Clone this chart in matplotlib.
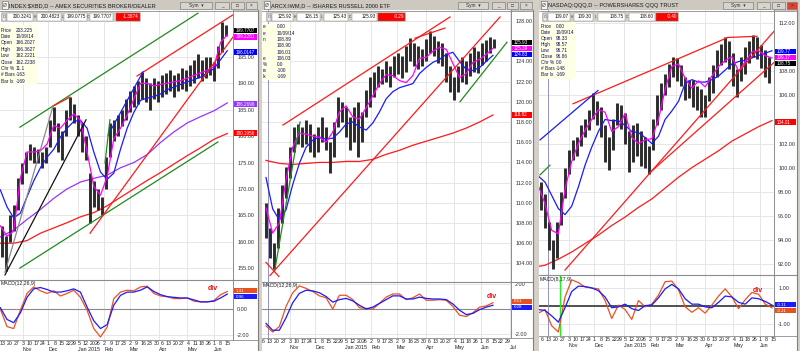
import numpy as np
import pandas as pd
import matplotlib
matplotlib.use("Agg")
import matplotlib.pyplot as plt
from matplotlib.patches import Rectangle
from matplotlib.lines import Line2D
from matplotlib.ticker import FormatStrFormatter

# ===================== DATA =====================
# session index 0 = 2014-10-13 (trading days). Bars sampled every 3 sessions,
# fast MAs and MACD weekly (every 5 sessions), slow MAs every 10 sessions.

# ---- INDEX:$XBD (AMEX Securities Broker/Dealer) ----
xbd_bar_start, xbd_week_start, xbd_slow_start = -1, -2, -2
xbd_hi = [163, 161, 165, 167, 172, 175, 177, 178.5, 178, 177.5, 177, 178, 183, 185.5, 182.5, 181, 185, 187.4, 186,
          184, 182.5, 180, 173, 171.5, 170, 168.5, 176, 182.5, 183, 184, 185, 187, 188.5, 189.5, 190.5, 192.2, 191,
          190, 191, 190.5, 191.5, 192, 192.5, 191.5, 192, 193, 192.5, 193.5, 194.5, 195.5, 194.5, 195, 195, 194, 197,
          201.6, 201]
xbd_lo = [157, 154.5, 160, 162, 166, 171, 173, 175.5, 175, 175, 174, 175, 178, 181, 177, 175.5, 180, 183, 182.5,
          180, 177, 175.5, 163.5, 166.5, 166, 165, 170, 176, 179, 180, 182, 183, 184.5, 185.5, 186, 187, 186.5, 185,
          187, 186.5, 187.5, 188, 188.5, 187.5, 188.5, 189, 188.5, 189.5, 190, 191, 190.5, 191, 191.5, 190.5, 193,
          196, 199]
xbd_fast_ma = [163, 161, 162, 172, 177, 177, 177.2, 178.5, 182, 181.5, 183, 184.2, 183, 177, 170.5, 168.8, 172.3,
               179.5, 181.5, 184, 187, 190, 190, 189.5, 189.8, 190, 190.3, 190.5, 191, 191.5, 192, 192.5, 193.2,
               197.8, 199.2]
xbd_mid_ma = [169.8, 166.6, 164.5, 165.4, 168.5, 171.5, 174, 176, 177.5, 179.8, 181.5, 182.8, 183, 181.5, 177,
              173.2, 171.8, 173, 177.5, 181.5, 184.5, 186.8, 187.2, 187.5, 188, 188.8, 189.3, 189.8, 190.3, 190.7,
              191.2, 192, 192.8, 194.5, 196.2]
xbd_ma50 = [160.9, 162.2, 164.2, 166.1, 168.2, 170, 171.3, 172, 172.6, 174, 175, 176.5, 178.8, 180.8, 182.5, 183.7,
            184.8, 186.3]
xbd_ma200 = [159.7, 159.7, 160.2, 161.6, 162.6, 163.6, 164.7, 165.5, 166.8, 168.4, 170, 171.6, 173.1, 174.7, 176.3,
             177.8, 179.4, 180.5]
xbd_macd = [0.0, -1.35, -1.5, -0.1, 1.2, 1.7, 1.4, 1.2, 1.4, 1.0, 1.2, 1.45, 0.9, -0.1, -1.5, -2.15, -1.4, 0.8, 1.3,
            1.45, 1.4, 1.7, 1.75, 1.2, 1.0, 0.95, 0.8, 0.8, 0.85, 0.6, 0.55, 0.55, 0.65, 1.1, 1.35]
xbd_signal = [0.1, -0.8, -1.05, -0.3, 0.9, 1.55, 1.65, 1.5, 1.3, 1.3, 1.4, 1.55, 1.3, 0.15, -0.9, -1.5, -1.2, 0.3,
              1.05, 1.3, 1.3, 1.45, 1.7, 1.35, 1.1, 0.95, 0.9, 0.85, 0.85, 0.7, 0.55, 0.55, 0.6, 0.85, 1.15]
# trendlines: (session, price) start -> end
xbd_trend_from = [(12.7, 181.7), (12.7, 155.0), (65.2, 161.6), (100.4, 191.4), (37.5, 185.7), (1.5, 153.7),
                  (1.5, 154.2), (78.7, 180.2), (76.4, 174.9)]
xbd_trend_to = [(146, 203.3), (161, 178.9), (172.3, 198.8), (172.3, 203.0), (50.2, 187.4), (62.2, 183.1),
                (37.5, 185.7), (104.9, 192.2), (80.1, 183.1)]
xbd_trend_colors = ['#1f8a1f', '#1f8a1f', '#ff1a1a', '#ff1a1a', '#ff1a1a', '#111111', '#8a8a8a', '#1a1aff',
                    '#1f8a1f']
xbd_title = "INDEX:$XBD,D -- AMEX SECURITIES BROKER/DEALER"
xbd_header = ["200.3241", "200.4823", "199.0775", "199.7707", "-1.3874"]
xbd_info = ["203.225", "10/09/14", "166.2027", "166.3627", "162.2221", "162.2238", "11.1", "-163", "-169"]
xbd_value_tags = [("199.7707", '#000000'), ("199.2261", '#ff00ff'), ("196.0147", '#0000ff'),
                  ("186.2696", '#9933ff'), ("180.1956", '#ff0000')]
xbd_macd_tags = [("1.31", '#e8501e'), ("0.96", '#1a1aff')]

# ---- ARCX:IWM (iShares Russell 2000 ETF) ----
iwm_bar_start, iwm_week_start, iwm_slow_start = -3, -3, -3
iwm_hi = [110, 107.5, 106, 109.5, 111.8, 113.5, 115.5, 117.5, 117.8, 117.5, 118.2, 117.8, 116.8, 117.5, 118.5,
          117.5, 116, 118, 120.5, 120, 119.5, 118.5, 119.5, 120, 119, 121.2, 122.5, 123, 123.5, 123.2, 124, 123.5,
          124.5, 124.8, 124.5, 125.5, 126.3, 125.8, 125.5, 125.2, 126.2, 127, 126.5, 126, 125.8, 124.8, 123.5,
          122.5, 123.5, 124.4, 124, 124.8, 125.4, 125, 125.8, 126.1, 126.4, 126.2]
iwm_lo = [106.5, 104.5, 103.4, 105.5, 108, 110.5, 112.5, 115, 115.8, 115.5, 115.8, 115, 114.5, 115, 116, 115.2, 113,
          114.5, 117.5, 118, 116.5, 115.2, 116, 114.5, 116, 118.5, 119.5, 120.5, 121.5, 121.8, 122, 121.5, 122.5,
          122.8, 122.4, 123, 124, 123.5, 123.2, 123.5, 124, 124.8, 124.5, 123.8, 123.5, 122, 121, 120.2, 121, 122,
          121.8, 122.6, 123, 122.9, 123.6, 124, 124.8, 125.3]
iwm_fast_ma = [109.5, 107, 108, 112.3, 115.5, 116.9, 116.8, 116.6, 116.5, 116, 117, 119, 119.6, 118.5, 118.3, 119.4,
               120.6, 121.8, 122.7, 122.6, 122.1, 121.9, 122.6, 124.3, 124.4, 125, 125.4, 125.2, 123.8, 122.4,
               122.8, 123.9, 124.2, 124.7, 125.3]
iwm_mid_ma = [112.5, 109.4, 108.3, 109.3, 111.8, 113.9, 115.5, 116.2, 116.5, 116.3, 116.4, 117, 117.8, 118, 117.5,
              117.2, 117.9, 119, 120.3, 121, 121.4, 121.6, 121.8, 122.8, 123.4, 123.9, 124.2, 124.7, 124.9, 124,
              123.2, 123.1, 123.4, 124, 124.6]
iwm_ma200 = [114.2, 113.9, 113.8, 113.9, 114, 114, 114.1, 114.1, 114.3, 114.8, 115.2, 115.7, 116.1, 116.5, 116.9,
             117.4, 118, 118.7]
iwm_macd = [-1.35, -1.85, -1.4, 0.2, 1.3, 1.85, 1.65, 1.4, 1.05, 0.9, 0, 1.1, 1.1, 0.75, 0.1, 0.05, 0, 0.45, 0.95,
            1.2, 1.2, 0.75, 0.9, 1.2, 0.7, 0.7, 0.75, 0.7, 0.2, -0.5, -0.6, -0.3, 0.15, 0.25, 0.5]
iwm_signal = [-1.15, -1.7, -1.7, -0.7, 0.5, 1.25, 1.5, 1.45, 1.3, 1.0, 0.55, 0.75, 0.85, 0.65, 0.3, 0, 0.15, 0.45,
              0.75, 1.05, 1.05, 0.8, 0.8, 0.95, 0.85, 0.8, 0.8, 0.75, 0.4, -0.1, -0.45, -0.35, -0.05, 0.15, 0.3]
iwm_trend_from = [(9.7, 117.7), (108.6, 126.3), (0, 102.8), (142.3, 120.0), (3.7, 103.4), (-3, 104.1)]
iwm_trend_to = [(134.8, 128.4), (131, 127.3), (172.3, 128.4), (177.5, 125.9), (22.5, 118.0), (6.7, 102.7)]
iwm_trend_colors = ['#ff1a1a', '#ff1a1a', '#ff1a1a', '#1f8a1f', '#1f8a1f', '#ff1a1a']
iwm_cursor = -1.5
iwm_title = "ARCX:IWM,D -- ISHARES RUSSELL 2000 ETF"
iwm_header = ["125.92", "126.15", "125.43", "125.93", "-0.29"]
iwm_info = ["0.00", "10/09/14", "108.89", "108.90", "106.01", "106.03", "0.0", "-100", "-169"]
iwm_value_tags = [("125.93", '#000000'), ("125.39", '#ff00ff'), ("124.83", '#0000ff'), ("118.82", '#ff0000')]
iwm_macd_tags = [("0.51", '#e8501e'), ("0.28", '#1a1aff')]

# ---- NASDAQ:QQQ (PowerShares QQQ Trust) ----
qqq_bar_start, qqq_week_start, qqq_slow_start = -6, -8, -13
qqq_hi = [98.8, 97.8, 95.5, 94, 95.5, 98, 100, 101.5, 102.3, 102.5, 103.5, 104, 104.8, 106.2, 105.5, 105, 103.5,
          102.5, 104, 105.4, 105.2, 104.5, 103, 103.5, 103.7, 103, 102.5, 101.8, 104, 106, 107, 107.8, 108.6, 109.2,
          109.1, 108.5, 107.5, 107.3, 107.3, 106.8, 106.5, 106, 107.5, 108.5, 109.8, 110.3, 110.8, 110.5, 109.5,
          108.2, 109.2, 110, 110.5, 111, 110.8, 110.2, 109.8, 109.2]
qqq_lo = [96.5, 95, 93.2, 91.6, 92.5, 95.2, 97.5, 99.5, 100.6, 101, 101.8, 102.5, 103.1, 104, 103.5, 102.5, 100.5,
          99.8, 101.5, 103.5, 103.2, 102, 99.6, 100.5, 101, 100.1, 100, 99.5, 101.5, 103.5, 104.8, 106, 106.7, 107.5,
          107.2, 106.8, 105.6, 105.8, 105, 104.8, 104.2, 104.2, 105.5, 106.2, 107.5, 108.5, 108.8, 108.2, 106.8,
          105.9, 107.2, 107.8, 108.7, 109.2, 109, 108.3, 107.5, 107]
qqq_fast_ma = [98.5, 97, 94.8, 94.5, 98.2, 100.5, 102, 103.1, 104, 104.8, 104.6, 103, 103.4, 104.5, 102.5, 102,
               102.3, 102.4, 104, 106.5, 108.4, 108.6, 107.4, 106.6, 107.2, 106.7, 107.6, 108.4, 108.9, 109.2, 108,
               108.8, 109.6, 109.7, 109.3, 109.1]
qqq_mid_ma = [99.3, 98.8, 97.7, 96.6, 96.1, 96.8, 98.4, 100.2, 101.7, 103, 104, 103.9, 103.9, 103.5, 103, 102.9,
              102.5, 102, 102.6, 104, 104.7, 105.5, 107, 107.3, 107.1, 107.1, 107.3, 107.6, 108.1, 108.6, 108.8,
              108.9, 109.1, 109.3, 109.5, 109.7]
qqq_ma200 = [91.7, 91.9, 92.4, 93, 93.7, 94.4, 95.2, 95.9, 96.7, 97.4, 98.3, 99.2, 100, 100.7, 101.4, 102.2, 102.8,
             103.4, 103.9]
qqq_macd = [-0.4, -0.2, -1.1, -1.45, 0.5, 1.45, 1.3, 1.05, 1.0, 0.95, 0.3, -0.7, 0.05, -0.2, -0.75, 0.3, -0.05, 0.1,
            0.6, 1.35, 1.38, 0.9, -0.05, -0.35, -0.1, -0.4, 0.05, 0.55, 0.95, 0.5, -0.15, 0.35, 0.75, 0.65, 0.1, -0.1]
qqq_signal = [-0.2, -0.25, -0.55, -0.9, -0.1, 0.8, 1.1, 1.08, 1.0, 0.85, 0.5, -0.1, -0.05, 0.1, -0.15, -0.25, 0.02,
              0.05, 0.45, 0.95, 1.2, 0.95, 0.4, 0.1, 0.1, -0.05, -0.1, 0.2, 0.55, 0.5, 0.2, 0.1, 0.45, 0.4, 0.25, 0.05]
qqq_trend_from = [(18, 105.3), (134, 110.8), (-6.7, 102.3), (-6.7, 99.4), (12, 91.5), (75.7, 99.6)]
qqq_trend_to = [(134, 110.8), (155.8, 110.9), (36.7, 106.4), (0.7, 100.2), (170.8, 111.6), (169.3, 108.8)]
qqq_trend_colors = ['#ff1a1a', '#ff1a1a', '#1a1aff', '#1f8a1f', '#ff1a1a', '#ff1a1a']
qqq_cursor = -0.75
qqq_macd_marker = 8.2
qqq_title = "NASDAQ:QQQ,D -- POWERSHARES QQQ TRUST"
qqq_header = ["109.07", "109.30", "108.75", "108.60", "-0.40"]
qqq_info = ["0.00", "10/09/14", "98.33", "98.57", "96.71", "96.86", "0.0", "-148", "-169"]
qqq_value_tags = [("109.77", '#0000ff'), ("109.17", '#ff00ff'), ("108.75", '#000000'), ("104.01", '#ff0000')]
qqq_macd_tags = [("-0.11", '#1a1aff'), ("-0.21", '#e8501e')]

# axis tick values shown on each right-hand scale (those hidden under value tags are left out)
xbd_price_ticks = [155, 160, 165, 170, 175, 180, 185, 190, 195]
iwm_price_ticks = [104, 106, 108, 110, 112, 114, 116, 118, 120, 122, 124, 128]
qqq_price_ticks = [92, 94, 96, 98, 100, 102, 106, 108, 112]
xbd_macd_ticks = [-2, 0]
iwm_macd_ticks = [-2, 2]
qqq_macd_ticks = [-1, 1]

info_labels = ["Price", "Date", "Open", "High", "Low", "Close", "Chr %", "# Bars", "Bar Ix"]
holidays = ['2014-11-27', '2014-12-25', '2015-01-01', '2015-01-19', '2015-02-16', '2015-04-03', '2015-05-25']

# ===================== FIGURE =====================
W, H = 800, 351
fig = plt.figure(figsize=(8, 3.51), dpi=100)
fig.patch.set_facecolor('#d4d0c8')
FONT = ['Liberation Sans', 'DejaVu Sans']
plt.rcParams['font.family'] = FONT


def fx(x):
    return x / W


def fy(y):
    return 1 - y / H


def box(x0, y0, x1, y1, fc, ec='none', lw=0.5, z=-1):
    fig.add_artist(Rectangle((fx(x0), fy(y1)), (x1 - x0) / W, (y1 - y0) / H, transform=fig.transFigure,
                             fc=fc, ec=ec, lw=lw, zorder=z))


def hline(x0, x1, y, color, lw=0.7, z=3):
    fig.add_artist(Line2D([fx(x0), fx(x1)], [fy(y), fy(y)], transform=fig.transFigure, color=color, lw=lw,
                          zorder=z))


def vline(x, y0, y1, color, lw=0.7, z=3):
    fig.add_artist(Line2D([fx(x), fx(x)], [fy(y0), fy(y1)], transform=fig.transFigure, color=color, lw=lw,
                          zorder=z))


def ftext(x, y, s, z=6, **kw):
    kw.setdefault('family', FONT)
    fig.text(fx(x), fy(y), s, zorder=z, **kw)


def axes_px(x0, y0, x1, y1):
    return fig.add_axes([fx(x0), fy(y1), (x1 - x0) / W, (y1 - y0) / H])


# trading calendar for the date axis
cal = pd.bdate_range('2014-09-29', '2015-07-03', freq='C', holidays=holidays)
origin = cal.get_loc(pd.Timestamp('2014-10-13'))
week_ticks, month_ticks = [], []
prev_w = prev_m = None
for i, d in enumerate(cal):
    s = i - origin
    w = d.isocalendar()[1]
    if w != prev_w:
        week_ticks.append((s, str(d.day)))
    if d.month != prev_m:
        month_ticks.append((s, d.strftime('%b') + (' 2015' if (d.month == 1 and d.year == 2015) else '')))
    prev_w, prev_m = w, d.month

PX_PER_SESSION = 1.335

panels = [
    dict(L=0, R=233, PR=258, x0=3, price=(10, 280), mpane=(280, 340), ylim=(152.73, 203.91),
         yticks=xbd_price_ticks, mlim=(-2.38, 2.23), mticks=xbd_macd_ticks, macd_name="MACD(12,26,9)",
         bar_start=xbd_bar_start, week_start=xbd_week_start, slow_start=xbd_slow_start,
         hi=xbd_hi, lo=xbd_lo, fast=xbd_fast_ma, mid=xbd_mid_ma, ma50=xbd_ma50, ma200=xbd_ma200,
         macd=xbd_macd, signal=xbd_signal, tf=xbd_trend_from, tt=xbd_trend_to, tc=xbd_trend_colors,
         cursor=None, marker=None, title=xbd_title, header=xbd_header, info=xbd_info,
         tags=xbd_value_tags, tag_y=[30.5, 37, 52, 104, 133], mtags=xbd_macd_tags, mtag_y=[290.5, 296.5],
         header_x=[(7, 33), (37, 61), (64, 87), (90, 113), (116, 140)],
         info_box=(0, 25, 37, 85), info_y0=30, info_dy=6.4, info_lx=1, info_vx=15.5, info_lbl=info_labels,
         div=(213, 288), btn=[(180, 212), (215, 229), (231, 244), (246, 257)], zero_lw=0.8),
    dict(L=262, R=511, PR=533, x0=270, price=(10, 282), mpane=(282, 338), ylim=(102.16, 129.09),
         yticks=iwm_price_ticks, mlim=(-2.32, 2.16), mticks=iwm_macd_ticks, macd_name="MACD(12,26,9)",
         bar_start=iwm_bar_start, week_start=iwm_week_start, slow_start=iwm_slow_start,
         hi=iwm_hi, lo=iwm_lo, fast=iwm_fast_ma, mid=iwm_mid_ma, ma50=None, ma200=iwm_ma200,
         macd=iwm_macd, signal=iwm_signal, tf=iwm_trend_from, tt=iwm_trend_to, tc=iwm_trend_colors,
         cursor=iwm_cursor, marker=None, title=iwm_title, header=iwm_header, info=iwm_info,
         tags=iwm_value_tags, tag_y=[42.5, 48.5, 54.5, 115], mtags=iwm_macd_tags, mtag_y=[301.5, 307.5],
         header_x=[(272, 293), (297, 320), (324, 348), (352, 377), (378, 405)],
         info_box=(262, 24, 290, 80), info_y0=27, info_dy=6.25, info_lx=263, info_vx=277,
         info_lbl=["e", "e", "n", "", "", "e", "%", "rs", "Ix"],
         div=(492, 297), btn=[(458, 488), (492, 505), (507, 518), (520, 532)], zero_lw=0.8),
    dict(L=539, R=774, PR=797, x0=549, price=(10, 275), mpane=(275, 336), ylim=(91.09, 113.08),
         yticks=qqq_price_ticks, mlim=(-1.67, 1.72), mticks=qqq_macd_ticks, macd_name="MACD(8,17,9)",
         bar_start=qqq_bar_start, week_start=qqq_week_start, slow_start=qqq_slow_start,
         hi=qqq_hi, lo=qqq_lo, fast=qqq_fast_ma, mid=qqq_mid_ma, ma50=None, ma200=qqq_ma200,
         macd=qqq_macd, signal=qqq_signal, tf=qqq_trend_from, tt=qqq_trend_to, tc=qqq_trend_colors,
         cursor=qqq_cursor, marker=qqq_macd_marker, title=qqq_title, header=qqq_header, info=qqq_info,
         tags=qqq_value_tags, tag_y=[51.5, 57.5, 63.5, 122], mtags=qqq_macd_tags, mtag_y=[304.5, 310.5],
         header_x=[(548, 570), (574, 593), (598, 625), (629, 655), (656, 678)],
         info_box=(539, 22, 576, 79), info_y0=26, info_dy=6.1, info_lx=541, info_vx=556, info_lbl=info_labels,
         div=(758, 291), btn=[(723, 753), (757, 770), (772, 785), (787, 797)], zero_lw=1.4),
]

GRID = '#e2e2e2'

for P in panels:
    L, R, PR, X0 = P['L'], P['R'], P['PR'], P['x0']
    pt, pb = P['price']
    mt, mb = P['mpane']
    xlim = ((L - X0) / PX_PER_SESSION, (R - X0) / PX_PER_SESSION)
    box(L, 10, PR, H, 'white', z=-0.5)

    month_pos = [s for s, _ in month_ticks if xlim[0] <= s <= xlim[1]]

    # ---------- price pane ----------
    ax = axes_px(L, pt, R, pb)
    ax.set_facecolor('white')
    ax.set_xlim(*xlim)
    ax.set_ylim(*P['ylim'])
    ax.set_xticks(month_pos)
    ax.set_yticks(P['yticks'])
    ax.yaxis.tick_right()
    ax.yaxis.set_major_formatter(FormatStrFormatter('%.2f'))
    ax.tick_params(axis='y', length=0, pad=3, labelsize=4, colors='#303030')
    ax.tick_params(axis='x', length=0, labelbottom=False)
    ax.grid(True, color=GRID, lw=0.6)
    ax.set_axisbelow(True)
    for side in ['top', 'left', 'bottom']:
        ax.spines[side].set_visible(False)
    ax.spines['right'].set_color('#8c8c8c')
    ax.spines['right'].set_linewidth(0.7)

    bx = P['bar_start'] + 3 * np.arange(len(P['hi']))
    wx = P['week_start'] + 5 * np.arange(len(P['fast']))
    sx = P['slow_start'] + 10 * np.arange(len(P['ma200']))
    ax.plot(sx, P['ma200'], color='#ff1a1a', lw=0.9, zorder=2)
    if P['ma50'] is not None:
        ax.plot(sx, P['ma50'], color='#9933ff', lw=0.9, zorder=2)
    ax.vlines(bx, P['lo'], P['hi'], color='#2b2b2b', lw=2.1, zorder=3)
    ax.plot(wx, P['mid'], color='#1a1aff', lw=0.9, zorder=4)
    ax.plot(wx, P['fast'], color='#ff00ff', lw=0.9, zorder=4)
    for (s0, v0), (s1, v1), c in zip(P['tf'], P['tt'], P['tc']):
        ax.plot([s0, s1], [v0, v1], color=c, lw=0.9, zorder=5)
    if P['cursor'] is not None:
        ax.axvline(P['cursor'], color='#8080c0', lw=0.6, zorder=1)

    # ---------- MACD pane ----------
    am = axes_px(L, mt, R, mb)
    am.set_facecolor('white')
    am.set_xlim(*xlim)
    am.set_ylim(*P['mlim'])
    am.set_xticks(month_pos)
    am.set_yticks(P['mticks'])
    am.yaxis.tick_right()
    am.yaxis.set_major_formatter(FormatStrFormatter('%.2f'))
    am.tick_params(axis='y', length=0, pad=3, labelsize=4, colors='#303030')
    am.tick_params(axis='x', length=0, labelbottom=False)
    am.grid(True, color=GRID, lw=0.6)
    am.set_axisbelow(True)
    for side in ['top', 'left', 'bottom']:
        am.spines[side].set_visible(False)
    am.spines['right'].set_color('#8c8c8c')
    am.spines['right'].set_linewidth(0.7)
    am.axhline(0, color='#505050' if P['zero_lw'] > 1 else '#8a8a8a', lw=P['zero_lw'], zorder=1)
    if P['cursor'] is not None:
        am.axvline(P['cursor'], color='#8080c0', lw=0.6, zorder=1)
    if P['marker'] is not None:
        am.axvline(P['marker'], color='#22ee22', lw=1.0, zorder=1)
    am.plot(wx, P['macd'], color='#f0501e', lw=0.9, zorder=3)
    am.plot(wx, P['signal'], color='#1a1aff', lw=0.9, zorder=4)

    # date labels
    tr = am.get_xaxis_transform()
    h_m = mb - mt
    for s, lab in week_ticks:
        if xlim[0] - 0.5 <= s <= xlim[1]:
            am.text(s, -3.5 / h_m, lab, transform=tr, ha='center', va='center', fontsize=3.8,
                    family=FONT, color='#202020', clip_on=False)
    for s, lab in month_ticks:
        if xlim[0] <= s <= xlim[1]:
            am.text(s, -9.5 / h_m, lab, transform=tr, ha='left', va='center', fontsize=3.8,
                    family=FONT, color='#202020', clip_on=False)

    # separators
    hline(L, PR, pb, '#8c8c8c', lw=0.8)
    hline(L, PR, mb, '#8c8c8c', lw=0.6)
    vline(PR, 10, H, '#808080', lw=0.8)

    # ---------- title bar ----------
    box(L, 0, PR, 10.5, '#cdc9c1', z=-0.4)
    hline(L, PR, 10.5, '#8c8c8c', lw=0.6)
    box(L + 1.5, 1.5, L + 7.5, 9, '#f4f4f4', ec='#606060', lw=0.4, z=2)
    ftext(L + 4.5, 5.5, 'Ø', fontsize=3.5, ha='center', va='center', color='#404040')
    ftext(L + 9, 5.3, P['title'], fontsize=4.1, ha='left', va='center', color='#1a1a1a')
    for j, (b0, b1) in enumerate(P['btn']):
        fc = '#e04030' if (j == 3 and P is panels[-1]) else '#d8d4cc'
        box(b0, 2, b1, 9, fc, ec='#707070', lw=0.4, z=2)
        sym = ['Sym  ▾', '_', '□', '×'][j]
        ftext((b0 + b1) / 2, 5.5, sym, fontsize=3.4, ha='center', va='center', color='#303030')

    # ---------- header row ----------
    hx = P['header_x']
    box(hx[0][0] - 6, 12, hx[-1][1] + 1, 22, '#d4d0c8', z=2)
    box(hx[0][0] - 5, 13.5, hx[0][0] - 1, 20.5, '#ececec', ec='#707070', lw=0.3, z=2.5)
    ftext(hx[0][0] - 3, 17, 'O', fontsize=2.6, ha='center', va='center', color='#303030')
    letters = ['H', 'L', 'C']
    for j, ((b0, b1), val) in enumerate(zip(hx, P['header'])):
        red = j == len(hx) - 1
        box(b0, 13, b1, 21, '#ff0000' if red else 'white', ec='#808080', lw=0.3, z=2.5)
        ftext(b1 - 1.2, 17, val, fontsize=3.3, ha='right', va='center', color='white' if red else '#101010')
        if j < 3:
            ftext((b1 + hx[j + 1][0]) / 2, 17, letters[j], fontsize=2.4, ha='center', va='center',
                  color='#303030')

    # ---------- info box ----------
    ib = P['info_box']
    box(ib[0], ib[1], ib[2], ib[3], '#ffffe6', z=2)
    for j, (lab, val) in enumerate(zip(P['info_lbl'], P['info'])):
        yy = P['info_y0'] + j * P['info_dy']
        ftext(P['info_lx'], yy, lab, fontsize=3.4, ha='left', va='center', color='#10105a')
        ftext(P['info_vx'], yy, val, fontsize=3.4, ha='left', va='center', color='#10105a')

    # ---------- right-hand value tags ----------
    for (txt, col), yy in zip(P['tags'], P['tag_y']):
        box(R + 1, yy - 2.8, PR - 1, yy + 2.8, col, z=2)
        ftext(R + 2.5, yy, txt, fontsize=3.3, ha='left', va='center', color='white')
    for (txt, col), yy in zip(P['mtags'], P['mtag_y']):
        box(R + 1, yy - 2.6, PR - 1, yy + 2.6, col, z=2)
        ftext(R + 2.5, yy, txt, fontsize=3.2, ha='left', va='center', color='white')

    # MACD caption and divergence note
    ftext(L + 1, mt + 4, P['macd_name'], fontsize=3.7, ha='left', va='center', color='#202020')
    ftext(P['div'][0], P['div'][1], 'div', fontsize=5, ha='center', va='center', color='#e01010',
          weight='bold')

fig.savefig('out.png', dpi=100, facecolor=fig.get_facecolor())
